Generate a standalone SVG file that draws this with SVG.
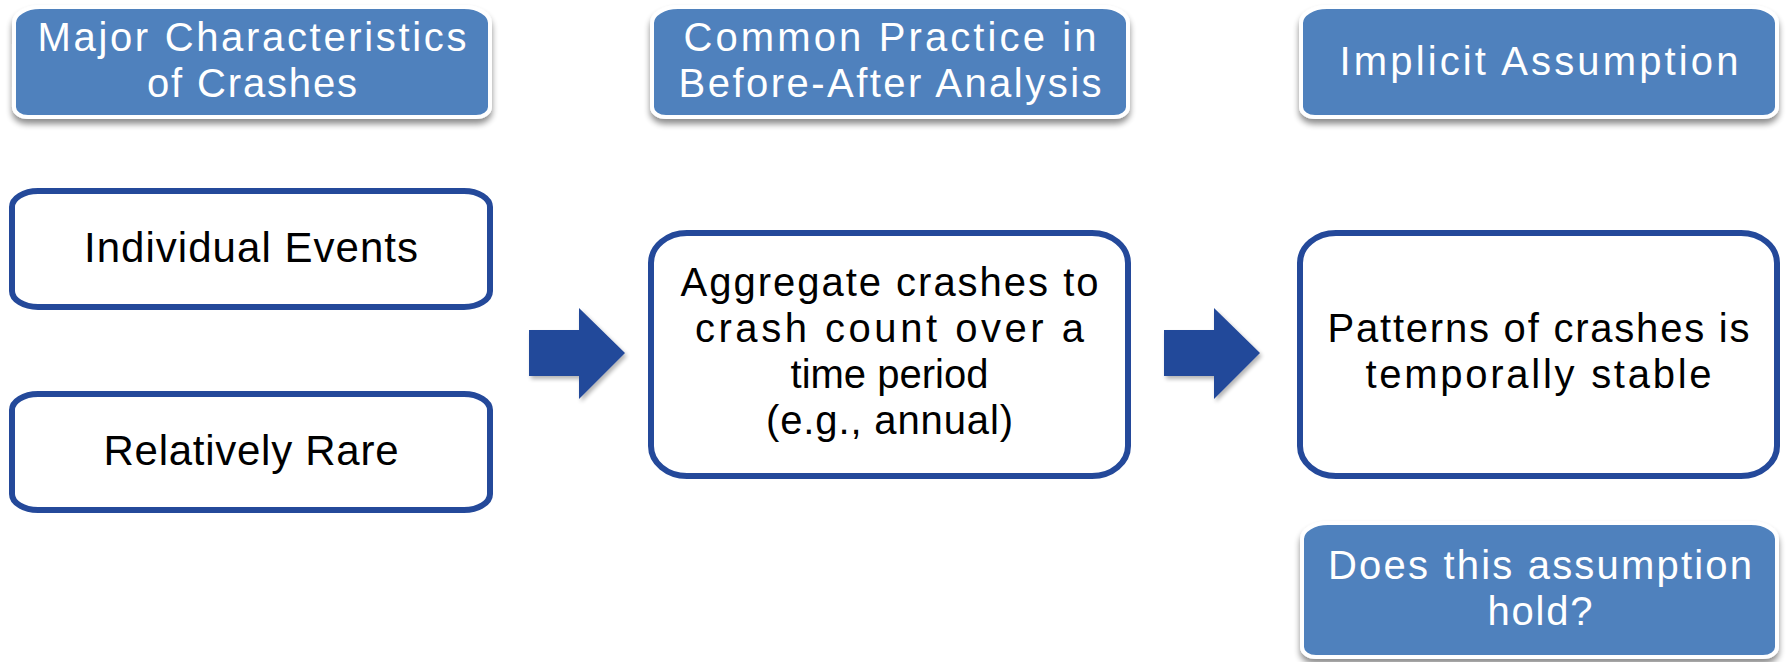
<svg xmlns="http://www.w3.org/2000/svg" width="1787" height="662" viewBox="0 0 1787 662">
  <defs>
    <filter id="softShadow" x="-5%" y="-10%" width="110%" height="130%">
      <feGaussianBlur in="SourceAlpha" stdDeviation="3"/>
      <feOffset dx="0" dy="5" result="off"/>
      <feComponentTransfer><feFuncA type="linear" slope="0.45"/></feComponentTransfer>
      <feMerge><feMergeNode/><feMergeNode in="SourceGraphic"/></feMerge>
    </filter>
    <filter id="arrowShadow" x="-10%" y="-10%" width="130%" height="130%">
      <feGaussianBlur in="SourceAlpha" stdDeviation="2"/>
      <feOffset dx="2" dy="3" result="off"/>
      <feComponentTransfer><feFuncA type="linear" slope="0.3"/></feComponentTransfer>
      <feMerge><feMergeNode/><feMergeNode in="SourceGraphic"/></feMerge>
    </filter>
  </defs>
  <style>
    .hdr { fill: #4F81BD; stroke: #FFFFFF; stroke-width: 4; filter: url(#softShadow); }
    .box { fill: #FFFFFF; stroke: #24499A; stroke-width: 6; }
    .arrow { fill: #22489A; filter: url(#arrowShadow); }
    text { font-family: "Liberation Sans", Arial, sans-serif; font-size: 40px; text-anchor: middle; }
    .light { fill: #FFFFFF; }
    .dark { fill: #000000; }
    .big { font-size: 42px; }
  </style>
  <rect width="1787" height="662" fill="#FFFFFF"/>

  <!-- column headers -->
  <g id="hdr-characteristics">
    <path class="hdr" d="M40,7 H464 A26 16 0 0 1 490,23 V107 A14 10 0 0 1 476,117 H28 A14 10 0 0 1 14,107 V23 A26 16 0 0 1 40,7 Z"/>
    <text class="light" x="252" y="51" textLength="429" lengthAdjust="spacing">Major Characteristics</text>
    <text class="light" x="252" y="97" textLength="210" lengthAdjust="spacing">of Crashes</text>
  </g>
  <g id="hdr-practice">
    <path class="hdr" d="M678,7 H1102 A26 16 0 0 1 1128,23 V107 A14 10 0 0 1 1114,117 H666 A14 10 0 0 1 652,107 V23 A26 16 0 0 1 678,7 Z"/>
    <text class="light" x="890" y="51" textLength="413" lengthAdjust="spacing">Common Practice in</text>
    <text class="light" x="890" y="97" textLength="423" lengthAdjust="spacing">Before-After Analysis</text>
  </g>
  <g id="hdr-assumption">
    <path class="hdr" d="M1327,7 H1751 A26 16 0 0 1 1777,23 V107 A14 10 0 0 1 1763,117 H1315 A14 10 0 0 1 1301,107 V23 A26 16 0 0 1 1327,7 Z"/>
    <text class="light" x="1539" y="75" textLength="399" lengthAdjust="spacing">Implicit Assumption</text>
  </g>
  <g id="hdr-question">
    <path class="hdr" d="M1328,523 H1751 A26 16 0 0 1 1777,539 V647 A14 10 0 0 1 1763,657 H1316 A14 10 0 0 1 1302,647 V539 A26 16 0 0 1 1328,523 Z"/>
    <text class="light" x="1540" y="579" textLength="424" lengthAdjust="spacing">Does this assumption</text>
    <text class="light" x="1540" y="625" textLength="105" lengthAdjust="spacing">hold?</text>
  </g>

  <!-- content boxes -->
  <g id="box-individual">
    <rect class="box" x="12" y="191" width="478" height="116" rx="26" ry="16"/>
    <text class="dark big" x="251" y="262" textLength="334" lengthAdjust="spacing">Individual Events</text>
  </g>
  <g id="box-rare">
    <rect class="box" x="12" y="394" width="478" height="116" rx="26" ry="16"/>
    <text class="dark big" x="251" y="465" textLength="295" lengthAdjust="spacing">Relatively Rare</text>
  </g>
  <g id="box-aggregate">
    <rect class="box" x="651" y="233" width="477" height="243" rx="36" ry="30"/>
    <text class="dark" x="889.5" y="296" textLength="418" lengthAdjust="spacing">Aggregate crashes to</text>
    <text class="dark" x="889.5" y="342" textLength="389" lengthAdjust="spacing">crash count over a</text>
    <text class="dark" x="889.5" y="388" textLength="198" lengthAdjust="spacing">time period</text>
    <text class="dark" x="889.5" y="434" textLength="247" lengthAdjust="spacing">(e.g., annual)</text>
  </g>
  <g id="box-stable">
    <rect class="box" x="1300" y="233" width="477" height="243" rx="36" ry="30"/>
    <text class="dark" x="1538.5" y="342" textLength="422" lengthAdjust="spacing">Patterns of crashes is</text>
    <text class="dark" x="1538.5" y="388" textLength="346" lengthAdjust="spacing">temporally stable</text>
  </g>

  <!-- block arrows between columns -->
  <g id="connectors">
    <polygon class="arrow" points="529,330 579,330 579,308 625,353 579,399 579,376 529,376"/>
    <polygon class="arrow" points="1164,330 1214,330 1214,308 1260,353 1214,399 1214,376 1164,376"/>
  </g>
</svg>
